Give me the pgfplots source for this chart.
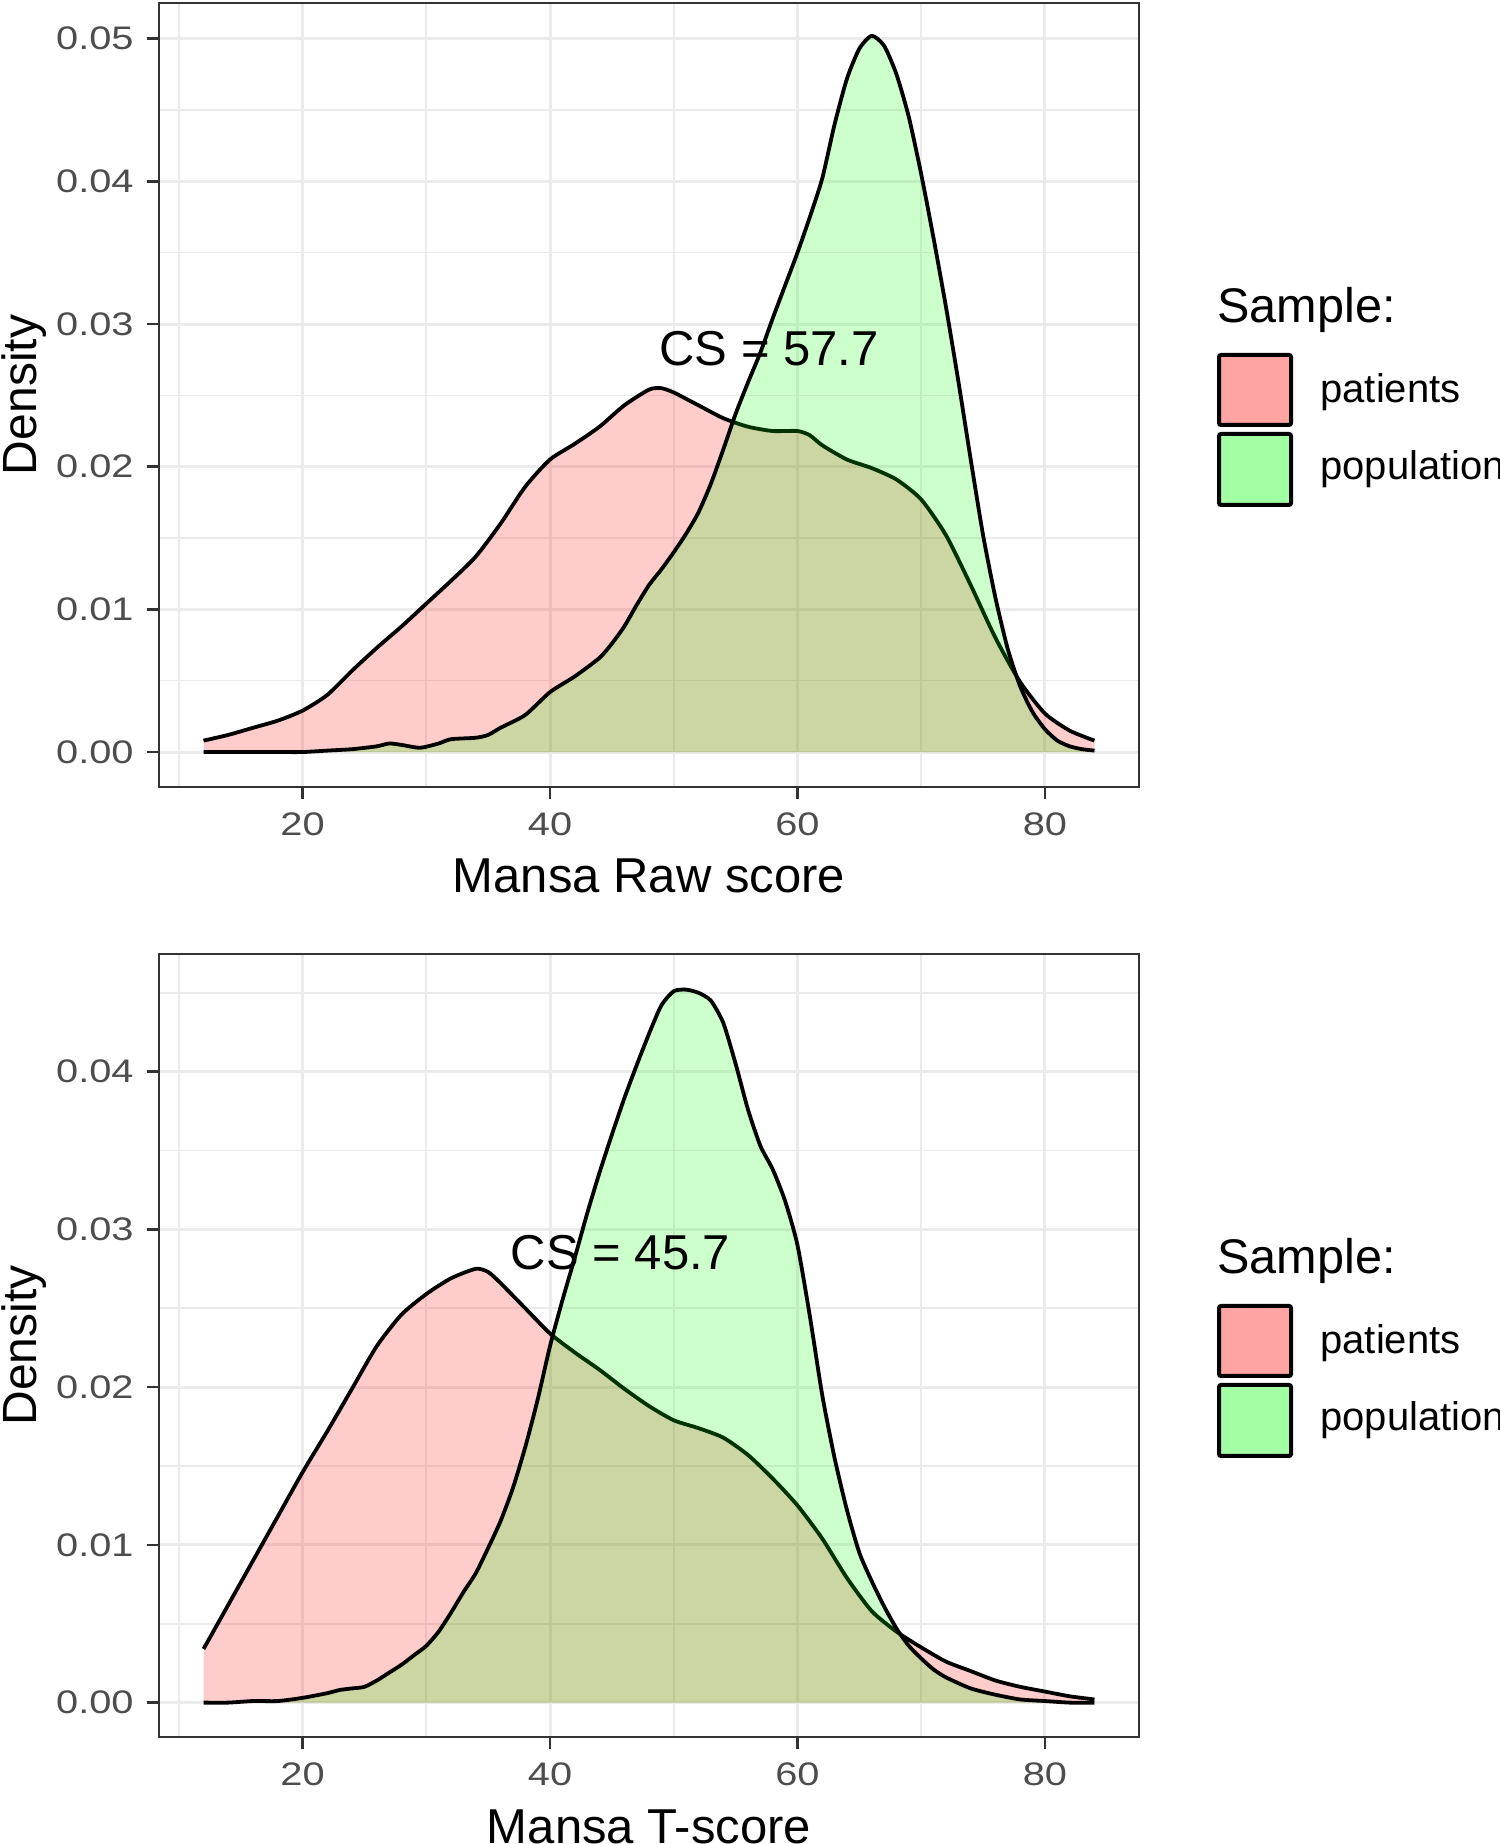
\documentclass[border=0pt]{standalone}
\usepackage{fontspec}
\setmainfont{Liberation Sans}
\usepackage{pgfplots}
\usepackage{pgfplotstable}
\pgfplotsset{compat=1.18}
\definecolor{g92}{HTML}{EBEBEB}
\definecolor{g20}{HTML}{333333}
\definecolor{g30}{HTML}{4D4D4D}
\definecolor{keyred}{HTML}{FFA3A3}
\definecolor{keygreen}{HTML}{A3FFA3}
\newcommand{\tl}[1]{\scalebox{1.22}[1]{#1}}

\pgfplotstableread{
x y
12 0.0008
14 0.0012
16 0.0017
18 0.0022
20 0.0029
22 0.0040
24 0.0057
26 0.0073
28 0.0088
30 0.0104
32 0.0120
34 0.0137
36 0.0160
38 0.0186
40 0.0205
42 0.0216
44 0.0228
46 0.0243
48 0.0254
49 0.0255
50 0.0252
52 0.0243
54 0.0234
56 0.0228
58 0.0225
60 0.0225
61 0.0222
62 0.0215
64 0.0205
66 0.0199
68 0.0191
70 0.0177
72 0.0152
74 0.0117
76 0.0080
78 0.0049
80 0.0027
82 0.0015
84 0.0008
}\rawpat

\pgfplotstableread{
x y
12 0.0000
14 0.0000
16 0.0000
18 0.0000
20 0.0000
22 0.0001
24 0.0002
26 0.0004
27 0.0006
28 0.0005
29.5 0.0003
31 0.0006
32 0.0009
34 0.0010
35 0.0012
36 0.0017
38 0.0026
40 0.0042
42 0.0053
44 0.0066
45 0.0076
46 0.0088
47 0.0103
48 0.0117
49 0.0128
50 0.0140
51 0.0153
52 0.0168
53 0.0188
54 0.0212
55 0.0237
56 0.0259
57 0.0280
58 0.0304
59 0.0327
60 0.0350
61 0.0375
62 0.0402
63 0.0440
64 0.0472
65 0.0493
66 0.0502
67 0.0495
68 0.0475
69 0.0445
70 0.0405
71 0.0360
72 0.0312
73 0.0260
74 0.0205
75 0.0152
76 0.0108
77 0.0072
78 0.0046
79 0.0028
80 0.0016
81 0.0008
82 0.0004
83 0.0002
84 0.0001
}\rawpop

\pgfplotstableread{
x y
12 0.0034
14 0.0062
16 0.0090
18 0.0118
20 0.0146
22 0.0172
24 0.0199
26 0.0226
28 0.0246
30 0.0259
32 0.0269
34 0.0275
35 0.0273
36 0.0266
38 0.0250
40 0.0234
42 0.0222
44 0.0211
46 0.0199
48 0.0188
50 0.0179
52 0.0174
54 0.0168
56 0.0157
58 0.0142
60 0.0125
62 0.0104
64 0.0079
66 0.0058
68 0.0045
70 0.0035
72 0.0026
74 0.0020
76 0.0014
78 0.0010
80 0.0007
82 0.0004
84 0.0002
}\tpat

\pgfplotstableread{
x y
12 0.0000
14 0.0000
16 0.0001
18 0.0001
20 0.0003
22 0.0006
23 0.0008
24 0.0009
25 0.0010
26 0.0014
27 0.0019
28 0.0024
29 0.0030
30 0.0036
31 0.0045
32 0.0057
33 0.0070
34 0.0082
35 0.0098
36 0.0115
37 0.0136
38 0.0162
39 0.0192
40 0.0226
41 0.0255
42 0.0282
43 0.0310
44 0.0336
45 0.0360
46 0.0383
47 0.0404
48 0.0424
49 0.0442
50 0.0451
51 0.0452
52 0.0450
53 0.0445
54 0.0431
55 0.0405
56 0.0376
57 0.0353
58 0.0338
59 0.0318
60 0.0290
61 0.0245
62 0.0195
63 0.0155
64 0.0122
65 0.0095
66 0.0077
67 0.0061
68 0.0047
69 0.0036
70 0.0028
71 0.0021
72 0.0016
74 0.0009
76 0.0005
78 0.0002
80 0.0001
82 0.0000
84 0.0000
}\tpop

\pgfplotsset{dens/.style={
  scale only axis, width=490pt,
  xmin=8.4, xmax=87.6,
  scaled x ticks=false, scaled y ticks=false,
  xtick={20,40,60,80}, minor xtick={10,30,50,70},
  xticklabels={\tl{20},\tl{40},\tl{60},\tl{80}},
  grid=both,
  major grid style={g92, line width=1.5pt},
  minor grid style={g92, line width=0.8pt},
  axis line style={g20, line width=1.2pt},
  tick align=outside,
  xtick pos=bottom, ytick pos=left,
  major tick length=6pt,
  major tick style={g20, line width=1.2pt},
  minor tick length=0pt,
  tick label style={font=\fontsize{16.3}{18}\selectfont, text=g30},
  xticklabel style={anchor=north, inner sep=0pt, yshift=-6.5pt},
  yticklabel style={anchor=east, inner sep=0pt, xshift=-6.5pt},
  patfill/.style={draw=none, fill=red, fill opacity=0.2},
  popfill/.style={draw=none, fill=green, fill opacity=0.2},
  curve/.style={black, line width=1.9pt, line join=round, smooth, tension=0.4},
}}

\begin{document}
\begin{tikzpicture}
\path[use as bounding box] (0,0) rectangle (750pt,922pt);

% ---------- top panel ----------
\begin{axis}[dens, height=392pt, at={(79.5pt,528.5pt)}, anchor=south west,
  ymin=-0.00245, ymax=0.0525,
  ytick={0,0.01,0.02,0.03,0.04,0.05},
  minor ytick={0.005,0.015,0.025,0.035,0.045},
  yticklabels={\tl{0.00},\tl{0.01},\tl{0.02},\tl{0.03},\tl{0.04},\tl{0.05}}]
\addplot[patfill, smooth, tension=0.4] table {\rawpat} \closedcycle;
\addplot[curve] table {\rawpat};
\addplot[popfill, smooth, tension=0.4] table {\rawpop} \closedcycle;
\addplot[curve] table {\rawpop};
\node[font=\fontsize{24.5}{28}\selectfont, inner sep=0pt] at (axis cs:57.7,0.0283) {CS = 57.7};
\end{axis}

% ---------- bottom panel ----------
\begin{axis}[dens, height=391.5pt, at={(79.5pt,53.5pt)}, anchor=south west,
  ymin=-0.00218, ymax=0.04746,
  ytick={0,0.01,0.02,0.03,0.04},
  minor ytick={0.005,0.015,0.025,0.035,0.045},
  yticklabels={\tl{0.00},\tl{0.01},\tl{0.02},\tl{0.03},\tl{0.04}}]
\addplot[patfill, smooth, tension=0.4] table {\tpat} \closedcycle;
\addplot[curve] table {\tpat};
\addplot[popfill, smooth, tension=0.4] table {\tpop} \closedcycle;
\addplot[curve] table {\tpop};
\node[font=\fontsize{24.5}{28}\selectfont, inner sep=0pt] at (axis cs:45.7,0.0285) {CS = 45.7};
\end{axis}

% ---------- axis titles ----------
\node[anchor=base, inner sep=0pt, font=\fontsize{24.5}{28}\selectfont] at (324.5pt,475.5pt) {Mansa Raw score};
\node[anchor=base, inner sep=0pt, font=\fontsize{24.5}{28}\selectfont] at (324.5pt,0.5pt) {Mansa T-score};
\node[rotate=90, anchor=base, inner sep=0pt, font=\fontsize{24}{28}\selectfont] at (18pt,724.5pt) {Density};
\node[rotate=90, anchor=base, inner sep=0pt, font=\fontsize{24}{28}\selectfont] at (18pt,249.25pt) {Density};

% ---------- legends ----------
\foreach \dy in {0pt,-475.5pt}{
  \begin{scope}[yshift=\dy]
  \node[anchor=base west, inner sep=0pt, font=\fontsize{24.3}{28}\selectfont] at (608.5pt,760.5pt) {Sample:};
  \draw[black, line width=2pt, fill=keyred, rounded corners=1pt] (609.5pt,709.5pt) rectangle (645.5pt,744.5pt);
  \draw[black, line width=2pt, fill=keygreen, rounded corners=1pt] (609.5pt,669.5pt) rectangle (645.5pt,705pt);
  \node[anchor=base west, inner sep=0pt, font=\fontsize{20}{24}\selectfont] at (660pt,720.5pt) {patients};
  \node[anchor=base west, inner sep=0pt, font=\fontsize{20}{24}\selectfont] at (660pt,682pt) {population};
  \end{scope}
}
\end{tikzpicture}
\end{document}
